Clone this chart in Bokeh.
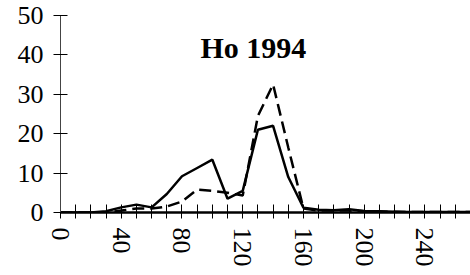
from bokeh.plotting import figure
from bokeh.models import FixedTicker, Range1d, Label
from bokeh.embed import file_html
from bokeh.resources import INLINE

days = [0, 10, 20, 30, 40, 50, 60, 70, 80, 90, 100, 110, 120, 130, 140,
        150, 160, 170, 180, 190, 200, 210, 220, 230, 240, 250, 260, 270]
solid = [0, 0, 0, 0.3, 1.3, 2.0, 1.3, 4.7, 9.2, 11.3, 13.4, 3.5, 5.5, 21.0, 22.0,
         9.0, 1.2, 0.7, 0.6, 0.8, 0.4, 0.3, 0.2, 0.1, 0.1, 0.1, 0.1, 0.1]
dashed = [0, 0, 0, 0, 0.5, 1.0, 1.0, 1.5, 2.8, 5.8, 5.5, 5.0, 4.3, 24.5, 32.5,
          16.5, 1.0, 0.5, 0.5, 0.5, 0.3, 0.2, 0.2, 0.1, 0.1, 0.1, 0.1, 0.1]
x_ticks = list(range(0, 261, 10))
x_labels = {t: (str(t) if t % 40 == 0 else "") for t in x_ticks}
y_ticks = [0, 10, 20, 30, 40, 50]
title_text = "Ho 1994"

p = figure(width=470, height=275, output_backend="svg", toolbar_location=None,
           x_range=Range1d(0, 270), y_range=Range1d(0, 50),
           min_border_left=60, min_border_right=0, min_border_top=15, min_border_bottom=63)
p.outline_line_color = None
p.grid.grid_line_color = None
p.background_fill_color = "white"

p.line(days, solid, line_color="black", line_width=2.5)
p.line(days, dashed, line_color="black", line_width=2.5, line_dash="12 6")

font = "Liberation Serif"
p.xaxis.ticker = FixedTicker(ticks=x_ticks)
p.xaxis.major_label_overrides = x_labels
p.xaxis.major_label_orientation = "vertical"
p.xaxis.minor_tick_line_color = None
p.xaxis.major_tick_in = 8
p.xaxis.major_tick_out = 6
p.xaxis.axis_line_width = 2.5
p.xaxis.major_label_standoff = 9
p.yaxis.ticker = FixedTicker(ticks=y_ticks)
p.yaxis.minor_tick_line_color = None
p.yaxis.major_tick_in = 7
p.yaxis.major_tick_out = 7
p.yaxis.axis_line_width = 1
p.yaxis.axis_line_color = "#444444"
p.yaxis.major_label_standoff = 10
for ax in (p.xaxis, p.yaxis):
    ax.major_label_text_font = font
    ax.major_label_text_font_size = "26px"
    ax.major_label_text_color = "black"
    ax.major_tick_line_color = "black"

p.add_layout(Label(x=127, y=42, text=title_text, text_align="center",
                   text_baseline="alphabetic", text_font=font,
                   text_font_style="bold", text_font_size="30px",
                   text_color="black"))

open("out.html", "w").write(file_html(p, INLINE))
